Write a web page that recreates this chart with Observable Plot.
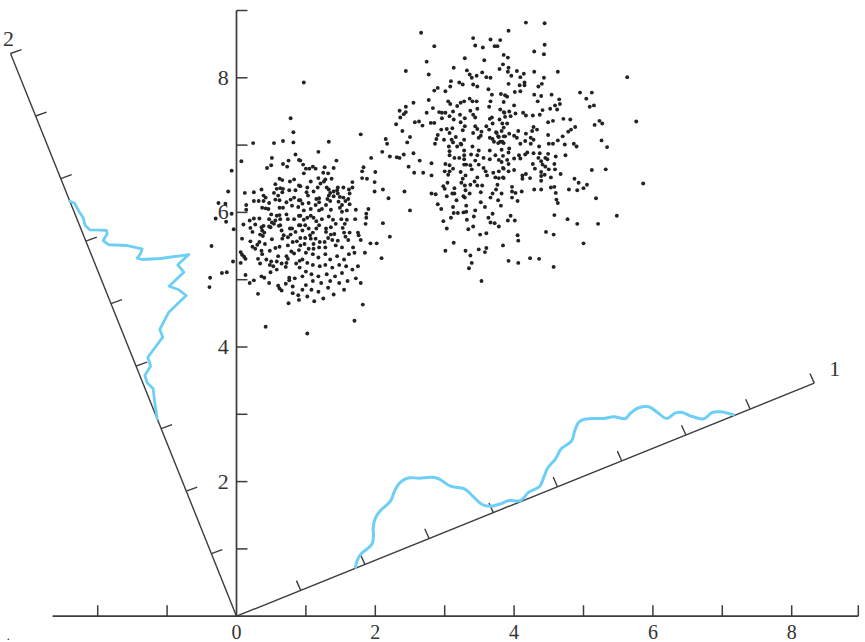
<!DOCTYPE html>
<html>
<head>
<meta charset="utf-8">
<script src="https://cdn.jsdelivr.net/npm/d3@7"></script>
<script src="https://cdn.jsdelivr.net/npm/@observablehq/plot@0.6"></script>
<style>
html,body{margin:0;padding:0;background:#fff}
svg{display:block}
</style>
</head>
<body>
<div id="chart"></div>
<script>
const xLabels = [0, 2, 4, 6, 8];
const yLabels = [2, 4, 6, 8];
const xTicks = [-2, -1, 1, 2, 3, 4, 5, 6, 7, 8, 8.96];
const yTicks = [1, 2, 3, 4, 5, 6, 7, 8, 9];
const rotatedTicks = [1, 2, 3, 4, 5, 6, 7, 8, 9];
const axis1Unit = [0.925, 0.3848];
const axis2Unit = [-0.3618, 0.929];

const density1 = [[1.715,.728],[1.739,.828],[1.797,.927],[1.883,1.001],[1.955,1.076],[1.974,1.199],[1.970,1.322],[2.003,1.462],[2.075,1.571],[2.219,1.709],[2.281,1.868],[2.363,1.991],[2.483,2.056],[2.627,2.051],[2.820,2.065],[2.915,2.042],[3.084,1.932],[3.285,1.893],[3.396,1.793],[3.540,1.660],[3.660,1.634],[3.804,1.670],[3.924,1.719],[4.092,1.719],[4.212,1.843],[4.370,1.932],[4.428,2.065],[4.486,2.205],[4.597,2.339],[4.679,2.487],[4.827,2.600],[4.875,2.759],[4.932,2.883],[5.004,2.923],[5.148,2.938],[5.288,2.938],[5.437,2.963],[5.605,2.938],[5.677,3.016],[5.797,3.097],[5.941,3.111],[6.062,3.031],[6.196,2.938],[6.326,3.022],[6.422,3.027],[6.566,2.967],[6.733,2.933],[6.855,3.027],[6.974,3.037],[7.157,2.993]];

const density2 = [[-2.402,6.166],[-2.334,6.137],[-2.272,6.018],[-2.209,5.920],[-2.180,5.805],[-2.114,5.741],[-1.960,5.736],[-1.873,5.731],[-1.863,5.682],[-1.921,5.582],[-1.840,5.519],[-1.575,5.508],[-1.359,5.459],[-1.383,5.385],[-1.431,5.320],[-1.359,5.300],[-1.095,5.315],[-0.687,5.374],[-0.846,5.221],[-0.759,5.111],[-0.970,4.903],[-0.831,4.850],[-0.725,4.765],[-0.976,4.517],[-1.105,4.260],[-1.062,4.146],[-1.278,3.848],[-1.239,3.715],[-1.321,3.577],[-1.287,3.468],[-1.200,3.379],[-1.182,3.205],[-1.143,2.933]];

const leftClusterUpper = [[.78,7.40],[.82,7.19],[.24,7.03],[.54,7.03],[.67,7.06],[.82,7.04],[.85,6.86],[.90,6.78],[.51,6.81],[.07,6.76],[.50,6.70],[.44,6.66],[.67,6.72],[.75,6.77],[.73,6.68],[-.07,6.62],[-.12,6.31],[-.26,6.14],[-.16,6.13],[.12,6.29],[.25,6.30],[.36,6.34],[.14,6.11],[.14,6.04],[-.07,5.98],[-.30,5.91],[-.15,5.86],[.62,6.50],[.66,6.48],[.56,6.42],[.77,6.46],[.83,6.49],[.63,6.36],[.58,6.35],[.67,6.35],[.54,6.29],[.66,6.30],[.76,6.33],[.85,6.33],[.39,6.25],[.42,6.22],[.25,6.17],[.32,6.17],[.39,6.17],[.47,6.14],[.60,6.25],[.56,6.19],[.62,6.18],[.72,6.15],[.78,6.19],[.83,6.22],[.90,6.40],[.90,6.18],[.37,6.07],[.42,6.06],[.46,6.05],[.62,6.07],[.67,6.07],[.80,6.10],[.89,6.08],[.25,5.91],[.19,5.88],[.33,5.91],[.10,5.82],[.20,5.77],[.27,5.82],[.36,5.78],[.39,5.80],[.47,5.90],[.50,5.97],[.58,5.95],[.62,5.96],[.72,5.97],[.74,5.90],[.56,5.88],[.51,5.85],[.63,5.90],[.83,5.90],[.90,5.95],[.47,5.79],[.61,5.80],[.77,5.76],[-.04,5.75],[.97,7.93]];

const leftClusterLower = [[.23,5.71],[.37,5.73],[.34,5.67],[.38,5.65],[.40,5.70],[.08,5.61],[-.36,5.50],[.20,5.57],[.23,5.49],[.27,5.46],[.33,5.56],[.30,5.52],[.41,5.53],[.51,5.60],[.49,5.78],[.54,5.83],[.63,5.81],[.65,5.73],[.68,5.66],[.78,5.67],[.85,5.71],[.90,5.81],[.80,5.76],[.74,5.63],[.66,5.61],[.81,5.56],[.87,5.57],[.74,5.51],[.79,5.42],[.83,5.39],[.90,5.44],[.62,5.49],[.56,5.47],[.48,5.43],[.36,5.43],[.37,5.38],[.06,5.41],[.08,5.37],[.11,5.34],[.13,5.31],[-.05,5.27],[.06,5.25],[.60,5.35],[.72,5.35],[.74,5.31],[.31,5.31],[.34,5.24],[.43,5.30],[.50,5.27],[.58,5.27],[.65,5.24],[.72,5.25],[.71,5.19],[.48,5.22],[.53,5.20],[.58,5.15],[.49,5.11],[.86,5.24],[.91,5.28],[.91,5.18],[-.14,5.11],[-.21,5.10],[-.38,5.03],[-.39,4.89],[.13,5.07],[.25,4.99],[.19,4.95],[.36,5.05],[.40,5.03],[.47,4.95],[.76,5.03],[.76,4.99],[.84,5.02],[.71,4.94],[.60,4.91],[.62,4.87],[.65,4.84],[.81,4.90],[.81,4.80],[.89,4.77],[.31,4.79],[.75,4.65],[.42,4.30]];

const leftClusterRight = [[1.79,7.16],[1.33,7.05],[1.18,6.90],[2.15,7.09],[2.17,7.02],[2.10,6.90],[1.94,6.81],[2.21,6.83],[2.31,6.82],[2.35,6.81],[1.44,6.77],[.92,6.77],[.96,6.71],[.97,6.58],[1.00,6.65],[1.05,6.65],[1.10,6.68],[1.14,6.65],[1.27,6.67],[1.40,6.66],[1.25,6.59],[1.32,6.58],[1.83,6.67],[1.81,6.61],[2.00,6.60],[1.81,6.51],[1.88,6.50],[1.18,6.51],[1.28,6.49],[1.37,6.50],[1.07,6.46],[1.21,6.43],[1.26,6.46],[1.99,6.45],[1.67,6.45],[1.67,6.37],[1.99,6.31],[2.11,6.34],[2.19,6.21],[1.62,6.34],[1.63,6.28],[1.61,6.20],[1.63,6.12],[.92,6.39],[1.02,6.37],[1.01,6.30],[1.03,6.25],[1.11,6.31],[1.17,6.37],[1.30,6.37],[1.33,6.34],[1.35,6.29],[1.40,6.31],[1.46,6.37],[1.54,6.37],[1.45,6.33],[1.33,6.25],[1.40,6.24],[1.46,6.28],[1.49,6.23],[1.54,6.22],[1.57,6.17],[1.15,6.20],[1.19,6.21],[1.31,6.20],[1.35,6.17],[1.47,6.16],[1.52,6.11],[1.49,6.07],[1.52,6.01],[1.59,6.03],[.92,6.18],[.95,6.13],[1.04,6.14],[1.14,6.11],[1.19,6.15],[1.19,6.03],[1.07,6.05],[.97,6.03],[1.29,6.11],[1.36,6.04],[1.23,6.05],[1.72,6.04],[1.90,6.05],[1.87,5.98],[1.87,5.92],[1.86,5.83],[1.71,5.90],[1.59,5.89],[1.51,5.90],[1.56,5.83],[1.33,5.94],[1.39,5.89],[1.43,5.83],[1.36,5.78],[1.29,5.76],[2.11,5.84],[2.21,5.64],[1.93,5.54],[2.02,5.54],[1.53,5.77],[1.55,5.70],[1.63,5.70],[1.57,5.64],[1.61,5.59],[1.75,5.70],[1.76,5.66],[1.79,5.59],[1.68,5.48],[1.29,5.71],[1.36,5.67],[1.41,5.68],[1.32,5.62],[1.38,5.59],[1.46,5.58],[1.43,5.51],[1.27,5.56],[1.52,5.48],[1.28,5.48],[.92,5.95],[.97,5.89],[1.02,5.92],[1.07,5.95],[1.11,5.92],[1.15,5.87],[1.19,5.81],[1.15,5.76],[1.10,5.70],[1.06,5.66],[.99,5.62],[.92,5.62],[.92,5.81],[.99,5.81],[1.04,5.76],[1.23,5.90],[.95,5.73],[1.07,5.61],[1.14,5.61],[1.20,5.56],[1.11,5.53],[1.04,5.46],[1.11,5.46],[1.19,5.48],[.98,5.53],[.92,5.51]];

const leftClusterBottom = [[1.0,5.4],[.95,5.3],[1.02,5.25],[1.1,5.38],[1.18,5.33],[1.28,5.38],[1.35,5.3],[1.45,5.35],[1.55,5.3],[1.62,5.38],[1.7,5.4],[1.58,5.2],[1.48,5.22],[1.38,5.18],[1.28,5.22],[1.2,5.2],[1.1,5.22],[1.0,5.12],[.95,5.05],[1.08,5.08],[1.18,5.05],[1.3,5.08],[1.42,5.05],[1.52,5.1],[1.67,5.15],[1.72,5.02],[1.6,4.98],[1.48,4.95],[1.35,4.98],[1.22,4.95],[1.1,4.98],[1.0,4.92],[1.08,4.85],[1.18,4.82],[1.32,4.88],[.95,4.85],[1.4,4.78],[1.55,4.85],[1.25,4.72],[1.12,4.68],[.9,4.7],[1.02,4.75],[1.70,4.39],[1.82,4.63],[1.02,4.20],[1.75,5.2],[1.85,5.4],[1.79,4.95]];

const rightClusterUpperLeft = [[2.66,8.67],[2.85,8.47],[3.41,8.59],[3.66,8.57],[3.80,8.56],[3.44,8.48],[3.55,8.45],[3.72,8.47],[3.76,8.47],[3.85,8.34],[2.74,8.24],[3.29,8.29],[3.57,8.26],[3.84,8.20],[3.13,8.15],[3.79,8.13],[2.44,8.10],[2.77,8.05],[3.32,8.11],[3.36,8.05],[3.46,8.03],[3.54,8.08],[3.39,8.00],[3.60,8.01],[3.66,8.00],[3.09,7.95],[3.21,7.93],[3.26,7.90],[3.08,7.87],[2.90,7.85],[2.85,7.81],[3.01,7.80],[3.41,7.90],[3.47,7.87],[3.63,7.83],[3.68,7.75],[3.81,7.76],[3.87,7.74],[3.36,7.69],[3.46,7.65],[3.40,7.65],[3.66,7.65],[3.85,7.64],[2.77,7.67],[2.55,7.63],[3.05,7.65],[3.08,7.61],[3.28,7.65],[3.23,7.63],[3.18,7.58],[2.44,7.57],[2.83,7.55],[3.47,7.54],[3.64,7.57],[3.80,7.53],[3.85,7.49],[2.35,7.51],[2.44,7.49],[2.41,7.46],[2.36,7.41],[2.74,7.48],[2.92,7.49],[2.96,7.48],[3.01,7.48],[3.12,7.50],[3.37,7.51],[3.41,7.45],[3.44,7.41],[3.22,7.45],[3.07,7.43],[2.96,7.40],[3.13,7.38],[3.29,7.40],[3.23,7.34],[3.68,7.41],[3.65,7.39],[3.87,7.42],[2.57,7.34],[2.63,7.35],[2.68,7.29],[2.30,7.31],[2.80,7.33],[2.85,7.33],[3.69,7.32],[3.60,7.28],[3.29,7.28],[3.83,7.32],[2.39,7.21],[2.95,7.23],[3.03,7.24],[3.11,7.25],[3.07,7.18],[3.44,7.28],[3.47,7.24],[3.53,7.20],[3.26,7.22],[3.41,7.18],[2.90,7.15],[3.16,7.12],[3.52,7.14],[3.64,7.23],[3.74,7.19],[3.82,7.21],[3.85,7.26],[2.50,7.12],[2.46,7.04],[2.88,7.09],[2.86,7.02],[2.99,7.08],[3.10,7.08],[3.28,7.08],[3.23,7.02],[3.49,7.11],[3.65,7.11],[3.69,7.09],[3.78,7.12],[3.85,7.13],[3.71,7.05],[3.83,7.05]];

const rightClusterUpperRight = [[4.17,8.82],[4.44,8.81],[3.92,8.70],[4.44,8.49],[4.29,8.39],[4.43,8.35],[3.91,8.30],[3.92,8.15],[3.91,8.09],[3.96,8.03],[4.04,8.10],[4.14,8.06],[4.09,8.01],[4.29,8.09],[4.63,8.09],[4.43,8.00],[5.63,8.01],[3.92,7.91],[4.08,7.89],[4.15,7.93],[4.15,7.89],[4.40,7.91],[4.35,7.87],[3.90,7.72],[4.01,7.79],[4.09,7.80],[4.29,7.75],[4.39,7.73],[4.54,7.75],[4.34,7.65],[4.95,7.78],[5.12,7.78],[5.04,7.69],[4.65,7.68],[4.00,7.59],[4.59,7.59],[4.66,7.61],[4.52,7.54],[4.62,7.53],[5.09,7.57],[5.15,7.59],[4.41,7.52],[3.86,7.48],[3.93,7.50],[3.95,7.43],[4.02,7.47],[4.13,7.48],[4.17,7.44],[4.27,7.44],[4.37,7.45],[3.79,7.38],[3.90,7.32],[4.71,7.39],[4.81,7.38],[4.49,7.34],[4.56,7.36],[5.23,7.36],[5.27,7.32],[5.16,7.30],[5.76,7.35],[4.28,7.27],[4.33,7.23],[4.26,7.21],[4.06,7.21],[4.88,7.27],[4.82,7.23],[4.78,7.20],[4.49,7.15],[4.70,7.13],[3.75,7.18],[3.93,7.17],[4.17,7.17],[4.00,7.14],[4.04,7.11],[4.24,7.11],[4.28,7.08],[3.77,7.13],[3.87,7.13],[4.16,7.06],[4.09,7.02],[4.63,7.07],[5.26,7.07],[4.50,7.02],[4.56,7.02],[4.73,7.01],[4.86,7.02],[4.24,7.02],[3.80,7.05],[3.85,7.03]];

const rightClusterLowerLeft = [[2.41,6.86],[2.55,6.88],[2.64,6.77],[2.81,6.73],[2.48,6.68],[2.56,6.59],[2.69,6.59],[2.81,6.55],[2.42,6.31],[2.50,6.03],[2.09,5.32],[3.06,6.98],[3.07,6.91],[3.07,6.85],[3.18,6.98],[3.12,7.04],[3.24,7.01],[3.28,6.92],[3.28,6.85],[3.40,6.98],[3.49,6.92],[3.38,6.86],[3.65,6.92],[3.73,6.85],[3.82,6.93],[3.84,6.84],[3.77,7.03],[3.47,6.85],[3.56,6.81],[3.14,6.81],[3.21,6.81],[3.28,6.79],[3.44,6.77],[3.65,6.79],[3.78,6.78],[3.82,6.75],[3.01,6.72],[3.07,6.70],[3.28,6.71],[3.31,6.71],[3.37,6.70],[3.12,6.65],[3.39,6.64],[3.49,6.71],[3.56,6.66],[3.59,6.61],[3.70,6.59],[3.78,6.61],[3.85,6.65],[3.00,6.61],[3.07,6.61],[3.05,6.56],[3.23,6.60],[3.30,6.55],[3.61,6.55],[3.26,6.50],[3.47,6.52],[3.73,6.52],[3.78,6.51],[3.84,6.52],[3.04,6.44],[3.24,6.44],[3.43,6.46],[3.37,6.41],[3.47,6.40],[3.54,6.40],[3.76,6.41],[2.98,6.39],[3.00,6.35],[3.14,6.36],[3.29,6.40],[3.30,6.33],[3.11,6.28],[3.14,6.28],[2.81,6.28],[2.87,6.27],[3.03,6.24],[3.27,6.24],[3.29,6.22],[3.36,6.28],[3.52,6.30],[3.69,6.28],[3.74,6.34],[3.82,6.28],[3.17,6.18],[3.66,6.22],[3.77,6.18],[2.90,6.12],[2.95,6.05],[3.12,6.08],[3.31,6.10],[3.52,6.15],[3.58,6.08],[3.81,6.10],[3.13,5.99],[3.19,5.99],[3.27,6.00],[3.31,6.01],[3.44,6.03],[3.69,5.98],[3.09,5.92],[3.42,5.94],[3.32,5.89],[3.63,5.92],[2.98,5.87],[3.66,5.85],[3.72,5.84],[3.78,5.79],[3.03,5.76],[3.41,5.79],[3.34,5.75],[3.60,5.69],[3.51,5.67],[3.13,5.55],[3.84,5.51],[3.01,5.43],[3.30,5.43],[3.49,5.45],[3.60,5.47],[3.58,5.41],[3.37,5.36],[3.39,5.25],[3.35,5.17],[3.53,4.98]];

const rightClusterLowerRight = [[4.36,6.98],[4.90,6.98],[5.34,6.97],[3.93,6.95],[3.92,6.89],[4.07,6.85],[4.19,6.89],[4.16,6.86],[4.28,6.88],[4.37,6.88],[4.49,6.87],[4.60,6.83],[4.74,6.85],[4.00,6.80],[4.09,6.80],[4.35,6.81],[4.45,6.81],[4.48,6.79],[4.39,6.76],[3.90,6.78],[3.92,6.72],[4.27,6.72],[4.41,6.71],[4.45,6.68],[4.58,6.72],[4.59,6.64],[4.30,6.65],[4.50,6.64],[4.39,6.60],[3.84,6.66],[3.92,6.61],[4.00,6.63],[4.17,6.57],[4.12,6.55],[4.23,6.51],[4.12,6.50],[4.44,6.56],[4.39,6.54],[4.53,6.52],[4.39,6.47],[4.67,6.57],[5.12,6.63],[5.32,6.64],[4.87,6.50],[4.93,6.44],[5.05,6.41],[5.86,6.43],[3.85,6.51],[3.97,6.38],[4.53,6.37],[4.58,6.38],[3.97,6.31],[4.02,6.29],[4.11,6.31],[4.29,6.34],[4.39,6.34],[4.60,6.29],[4.79,6.34],[4.91,6.33],[5.00,6.36],[3.97,6.22],[4.05,6.17],[4.61,6.19],[4.63,6.14],[5.18,6.21],[4.58,5.96],[3.95,5.95],[3.91,5.88],[4.01,5.88],[4.77,5.90],[4.91,5.83],[5.21,5.83],[5.48,5.95],[4.46,5.71],[4.57,5.67],[4.05,5.66],[4.06,5.58],[5.00,5.54],[3.92,5.28],[4.06,5.25],[4.23,5.32],[4.36,5.31],[4.57,5.19]];

const scatter = [...leftClusterUpper, ...leftClusterLower, ...leftClusterRight, ...leftClusterBottom,
  ...rightClusterUpperLeft, ...rightClusterUpperRight, ...rightClusterLowerLeft, ...rightClusterLowerRight];

const ink = "#3c3c3c";
const xAxisEnds = [[-2.65, 0, 8.96, 0]];
const yAxisEnds = [[0, 0, 0, 9]];
const axis1Ends = [[0, 0, 9 * axis1Unit[0], 9 * axis1Unit[1]]];
const axis2Ends = [[0, 0, 9 * axis2Unit[0], 9 * axis2Unit[1]]];

const tickX = xTicks.map(v => [v, 0, v, 0.163]);
const tickY = yTicks.map(v => [0, v, 0.158, v]);
const tick1 = rotatedTicks.map(v => [v * axis1Unit[0], v * axis1Unit[1], v * axis1Unit[0] - 0.062, v * axis1Unit[1] + 0.144]);
const tick2 = rotatedTicks.map(v => [v * axis2Unit[0], v * axis2Unit[1], v * axis2Unit[0] + 0.158, v * axis2Unit[1] + 0.059]);

const link = (data, strokeWidth) => Plot.link(data, {
  x1: d => d[0], y1: d => d[1], x2: d => d[2], y2: d => d[3], stroke: ink, strokeWidth
});
const labelStyle = {fontFamily: "Liberation Serif", fontSize: 22, fill: "#333", textAnchor: "middle", lineAnchor: "middle"};

const chart = Plot.plot({
  width: 865,
  height: 642,
  margin: 0,
  style: {background: "#fff"},
  x: {domain: [-3.4006, 9.0634], range: [0, 865], axis: null},
  y: {domain: [-0.3908, 9.1486], range: [642, 0], axis: null},
  marks: [
    link(xAxisEnds, 1.7), link(yAxisEnds, 1.7), link(axis1Ends, 1.4), link(axis2Ends, 1.4),
    link(tickX, 1.5), link(tickY, 1.5), link(tick1, 1.4), link(tick2, 1.4),
    Plot.line(density1, {x: d => d[0], y: d => d[1], stroke: "#6dcff6", strokeWidth: 3, curve: "catmull-rom"}),
    Plot.line(density2, {x: d => d[0], y: d => d[1], stroke: "#6dcff6", strokeWidth: 2.8, curve: "linear"}),
    Plot.dot(scatter, {x: d => d[0], y: d => d[1], r: 1.95, fill: "#222", stroke: "none"}),
    Plot.text(xLabels, {x: d => d, y: () => -0.25, text: d => String(d), ...labelStyle, fontSize: 20}),
    Plot.text(yLabels, {x: () => -0.19, y: d => d, text: d => String(d), ...labelStyle}),
    Plot.text(["1"], {x: () => 8.62, y: () => 3.68, text: d => d, ...labelStyle}),
    Plot.text(["2"], {x: () => -3.285, y: () => 8.58, text: d => d, ...labelStyle}),
    Plot.text(["."], {x: () => -3.29, y: () => -0.29, text: d => d, ...labelStyle, fontSize: 12, fill: "#111"})
  ]
});
document.getElementById("chart").append(chart);
</script>
</body>
</html>
